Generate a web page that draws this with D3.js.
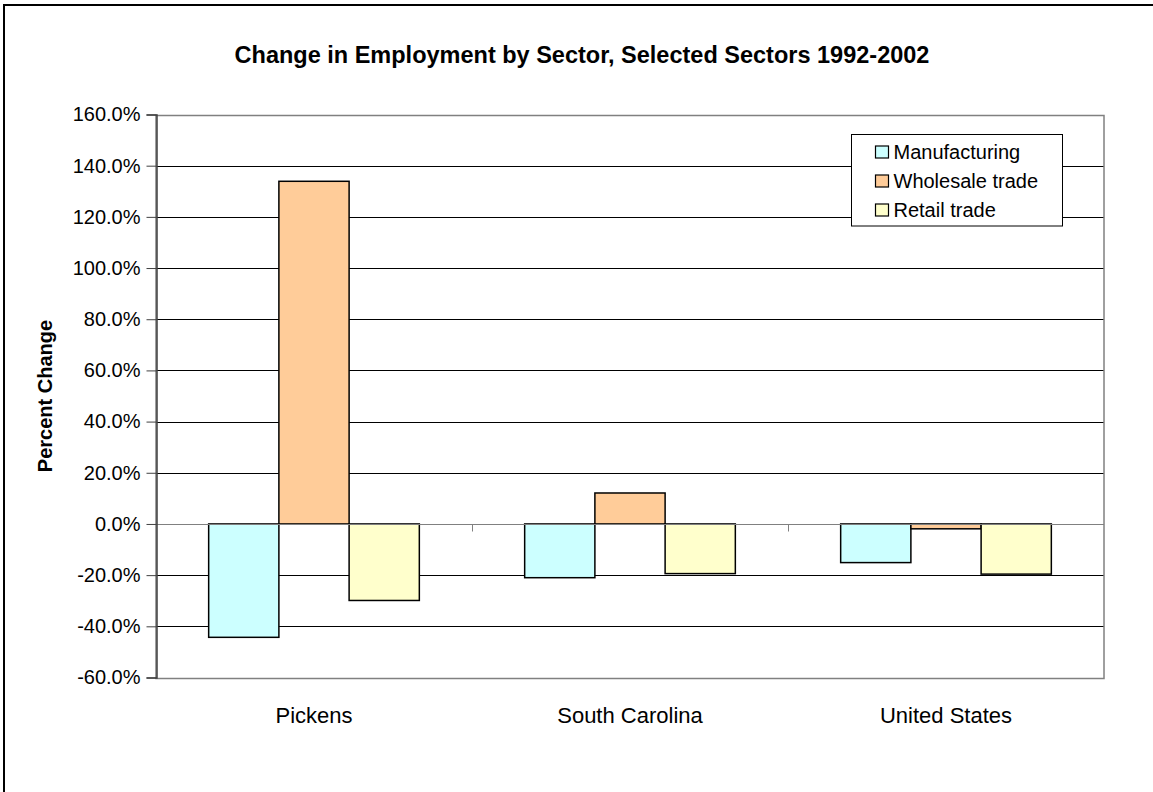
<!DOCTYPE html>
<html>
<head>
<meta charset="utf-8">
<script src="https://cdn.jsdelivr.net/npm/d3@7"></script>
<style>
  body { margin: 0; background: #fff; }
  text { font-family: Arial, "Liberation Sans", sans-serif; fill: #000; }
</style>
</head>
<body>
<svg id="chart" width="1153" height="792"></svg>
<script>
// Data
const regions = ["Pickens", "South Carolina", "United States"];
const sectors = ["Manufacturing", "Wholesale trade", "Retail trade"];
const manufacturing = [-44.3, -21.0, -15.1];
const wholesale = [133.9, 12.1, -1.9];
const retail = [-29.9, -19.4, -19.6];
const yTicks = [-60, -40, -20, 0, 20, 40, 60, 80, 100, 120, 140, 160];

const colors = ["#ccffff", "#ffcc99", "#ffffcc"];
const seriesValues = [manufacturing, wholesale, retail];

const svg = d3.select("#chart");

// Outer chart border (only left/top are inside the picture)
svg.append("rect")
  .attr("x", 4).attr("y", 5)
  .attr("width", 1160).attr("height", 800)
  .attr("fill", "none")
  .attr("stroke", "#000")
  .attr("stroke-width", 2);

const plot = { left: 156, right: 1104, top: 114.5, bottom: 677.5 };

const x = d3.scaleBand()
  .domain(regions)
  .range([plot.left, plot.right]);

const y = d3.scaleLinear()
  .domain([-60, 160])
  .range([plot.bottom, plot.top]);

// Gridlines
svg.append("g")
  .selectAll("line")
  .data(yTicks.filter(t => t !== 0 && t !== 160 && t !== -60))
  .enter().append("line")
  .attr("x1", plot.left).attr("x2", plot.right)
  .attr("y1", d => Math.round(y(d)) + 0.5)
  .attr("y2", d => Math.round(y(d)) + 0.5)
  .attr("stroke", "#000")
  .attr("stroke-width", 1);

// Plot area border
svg.append("rect")
  .attr("x", plot.left).attr("y", Math.round(plot.top) + 0.5)
  .attr("width", plot.right - plot.left)
  .attr("height", Math.round(plot.bottom) - Math.round(plot.top))
  .attr("fill", "none")
  .attr("stroke", "#808080")
  .attr("stroke-width", 1.5);

// Bars (gap width 150%)
const step = x.bandwidth();
const barW = step / 4.5;
const groupOffset = (step - barW * 3) / 2;

const bars = [];
seriesValues.forEach((vals, si) => {
  vals.forEach((v, ri) => bars.push({ si, ri, v }));
});

svg.append("g")
  .selectAll("rect")
  .data(bars)
  .enter().append("rect")
  .attr("x", d => x(regions[d.ri]) + groupOffset + d.si * barW)
  .attr("y", d => y(Math.max(0, d.v)))
  .attr("width", barW)
  .attr("height", d => Math.abs(y(d.v) - y(0)))
  .attr("fill", d => colors[d.si])
  .attr("stroke", "#000")
  .attr("stroke-width", 1.5);

// Category axis at zero
const zeroY = Math.round(y(0)) + 0.5;
svg.append("line")
  .attr("x1", plot.left).attr("x2", plot.right)
  .attr("y1", zeroY).attr("y2", zeroY)
  .attr("stroke", "#808080");

svg.append("g")
  .selectAll("line")
  .data(regions.slice(1))
  .enter().append("line")
  .attr("x1", d => Math.round(x(d)) + 0.5)
  .attr("x2", d => Math.round(x(d)) + 0.5)
  .attr("y1", zeroY).attr("y2", zeroY + 7)
  .attr("stroke", "#808080");

// Y axis
const yAxis = d3.axisLeft(y)
  .tickValues(yTicks)
  .tickSize(10)
  .tickPadding(6)
  .tickFormat(d => d.toFixed(1) + "%");

const yg = svg.append("g")
  .attr("transform", `translate(${plot.left + 0.5},0)`)
  .call(yAxis);
yg.select(".domain").attr("stroke", "#404040").attr("stroke-width", 1.5);
yg.selectAll(".tick line").attr("stroke", "#404040");
yg.selectAll(".tick text")
  .style("font-size", "20px")
  .attr("fill", "#000")
  .style("font-family", "Arial, 'Liberation Sans', sans-serif");

// Category labels
svg.append("g")
  .selectAll("text")
  .data(regions)
  .enter().append("text")
  .attr("x", d => x(d) + step / 2)
  .attr("y", 723)
  .attr("text-anchor", "middle")
  .style("font-size", "22px")
  .text(d => d);

// Title
svg.append("text")
  .attr("x", 582)
  .attr("y", 63)
  .attr("text-anchor", "middle")
  .style("font-size", "23.5px")
  .style("font-weight", "bold")
  .text("Change in Employment by Sector, Selected Sectors 1992-2002");

// Y axis title
svg.append("text")
  .attr("transform", `translate(52,${(plot.top + plot.bottom) / 2}) rotate(-90)`)
  .attr("text-anchor", "middle")
  .style("font-size", "20px")
  .style("font-weight", "bold")
  .text("Percent Change");

// Legend
const legend = svg.append("g").attr("transform", "translate(851.5,134.5)");
legend.append("rect")
  .attr("width", 211).attr("height", 91.5)
  .attr("fill", "#fff")
  .attr("stroke", "#000");

const legendItems = legend.selectAll("g.item")
  .data(sectors)
  .enter().append("g")
  .attr("class", "item")
  .attr("transform", (d, i) => `translate(24,${17.5 + i * 29})`);

legendItems.append("rect")
  .attr("x", 0).attr("y", -6)
  .attr("width", 13).attr("height", 12)
  .attr("fill", (d, i) => colors[i])
  .attr("stroke", "#000")
  .attr("stroke-width", 1.2);

legendItems.append("text")
  .attr("x", 18)
  .attr("y", 7)
  .style("font-size", "20px")
  .text(d => d);
</script>
</body>
</html>
